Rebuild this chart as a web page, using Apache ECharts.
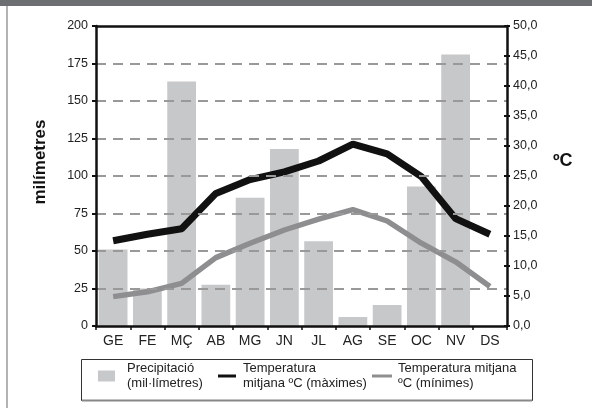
<!DOCTYPE html>
<html>
<head>
<meta charset="utf-8">
<script src="https://cdn.jsdelivr.net/npm/echarts@6/dist/echarts.min.js"></script>
<style>
html,body{margin:0;padding:0;background:#fff;}
#chart{width:592px;height:408px;}
</style>
</head>
<body>
<div id="chart"></div>
<script>
var months = ['GE','FE','MÇ','AB','MG','JN','JL','AG','SE','OC','NV','DS'];
var precipitation = [51, 25, 163, 27.5, 85.5, 118, 56.5, 6, 14, 93, 181, 0];
var tempMax = [14.2, 15.3, 16.2, 22.1, 24.4, 25.7, 27.5, 30.3, 28.7, 24.9, 17.9, 15.3];
var tempMin = [4.9, 5.7, 7.1, 11.4, 13.8, 16.0, 17.8, 19.4, 17.5, 13.8, 10.7, 6.6];
var leftTicks = [0, 25, 50, 75, 100, 125, 150, 175, 200];
var rightTicks = [0, 5, 10, 15, 20, 25, 30, 35, 40, 45, 50];

var FONT = '"Liberation Sans", Arial, sans-serif';
var chart = echarts.init(document.getElementById('chart'), null, {renderer: 'canvas'});

var seriesNames = ['Precipitació\n(mil·límetres)', 'Temperatura\nmitjana ºC (màximes)', 'Temperatura mitjana\nºC (mínimes)'];

function legendCfg(name, left, w, h, padLeft) {
  return {
    data: [name], left: left, top: 357, orient: 'horizontal',
    itemWidth: w, itemHeight: h, icon: 'rect', selectedMode: false, padding: 0,
    textStyle: {fontFamily: FONT, fontSize: 13, color: '#222', lineHeight: 15, padding: [8, 0, 0, padLeft]}
  };
}

chart.setOption({
  animation: false,
  textStyle: {fontFamily: FONT},
  grid: {left: 96, right: 85, top: 26, bottom: 82, containLabel: false},
  graphic: [
    {type: 'rect', shape: {x: 0, y: 0, width: 592, height: 6}, style: {fill: '#6d6e71'}, silent: true},
    {type: 'line', shape: {x1: 7, y1: 6, x2: 7, y2: 408}, style: {stroke: '#9a9a9a', lineWidth: 1.5}, silent: true},
    {type: 'rect', shape: {x: 81.5, y: 359.5, width: 451, height: 41}, style: {fill: 'none', stroke: '#333', lineWidth: 1}, silent: true},
    {type: 'line', shape: {x1: 82, y1: 400.5, x2: 532, y2: 400.5}, style: {stroke: '#888', lineWidth: 2}, silent: true},
    {type: 'text', x: 553, y: 161, style: {text: 'ºC', fill: '#111', font: 'bold 18px "Liberation Sans", Arial, sans-serif', textAlign: 'left', textVerticalAlign: 'middle', verticalAlign: 'middle'}, silent: true}
  ],
  legend: [
    legendCfg(seriesNames[0], 98, 17, 11, 7),
    legendCfg(seriesNames[1], 218, 18, 3, 2),
    legendCfg(seriesNames[2], 372, 20, 3, 1)
  ],
  xAxis: [
    {
      type: 'category', data: months, boundaryGap: true, position: 'bottom',
      axisLine: {show: true, onZero: false, lineStyle: {color: '#111', width: 2.5}},
      axisTick: {show: true, length: 4, lineStyle: {color: '#111', width: 1.5}},
      axisLabel: {fontSize: 14, color: '#222', margin: 8, fontFamily: FONT},
      splitLine: {show: false}, z: 10
    },
    {
      type: 'category', data: months, boundaryGap: true, position: 'top',
      axisLine: {show: true, onZero: false, lineStyle: {color: '#111', width: 2.5}},
      axisTick: {show: false}, axisLabel: {show: false}, splitLine: {show: false}, z: 10
    }
  ],
  yAxis: [
    {
      type: 'value', position: 'left', min: 0, max: 200, interval: 25,
      name: 'milímetres', nameLocation: 'middle', nameGap: 47,
      nameTextStyle: {fontSize: 17, fontWeight: 'bold', color: '#111', fontFamily: FONT, padding: [0, 0, 0, 28]},
      axisLine: {show: true, lineStyle: {color: '#111', width: 2.5}},
      axisTick: {show: true, length: 4, lineStyle: {color: '#111', width: 2}},
      axisLabel: {fontSize: 12.5, color: '#222', margin: 8, fontFamily: FONT},
      splitLine: {show: true, showMinLine: false, showMaxLine: false, lineStyle: {color: '#999', width: 2, type: [10, 7]}}, z: 10
    },
    {
      type: 'value', position: 'right', min: 0, max: 50, interval: 5,
      axisLine: {show: true, lineStyle: {color: '#111', width: 2.5}},
      axisTick: {show: true, length: 3, lineStyle: {color: '#111', width: 2}},
      axisLabel: {fontSize: 12.5, color: '#222', margin: 6, fontFamily: FONT,
        formatter: function (v) { return v.toFixed(1).replace('.', ','); }},
      splitLine: {show: false}, z: 10
    },
    {
      type: 'value', position: 'right', min: 0, max: 50, interval: 5,
      axisLine: {show: false},
      axisTick: {show: true, inside: true, length: 3, lineStyle: {color: '#111', width: 2}},
      axisLabel: {show: false},
      splitLine: {show: false}, z: 10
    }
  ],
  series: [
    {
      name: seriesNames[0], type: 'bar', yAxisIndex: 0, data: precipitation,
      barCategoryGap: '16%', itemStyle: {color: '#c7c8ca'}, z: 1
    },
    {
      name: seriesNames[1], type: 'line', yAxisIndex: 1, data: tempMax,
      symbol: 'none', lineStyle: {color: '#111', width: 7}, itemStyle: {color: '#111'}, z: 4
    },
    {
      name: seriesNames[2], type: 'line', yAxisIndex: 1, data: tempMin,
      symbol: 'none', lineStyle: {color: '#8e8e90', width: 5.5}, itemStyle: {color: '#8e8e90'}, z: 3
    }
  ]
});
</script>
</body>
</html>
